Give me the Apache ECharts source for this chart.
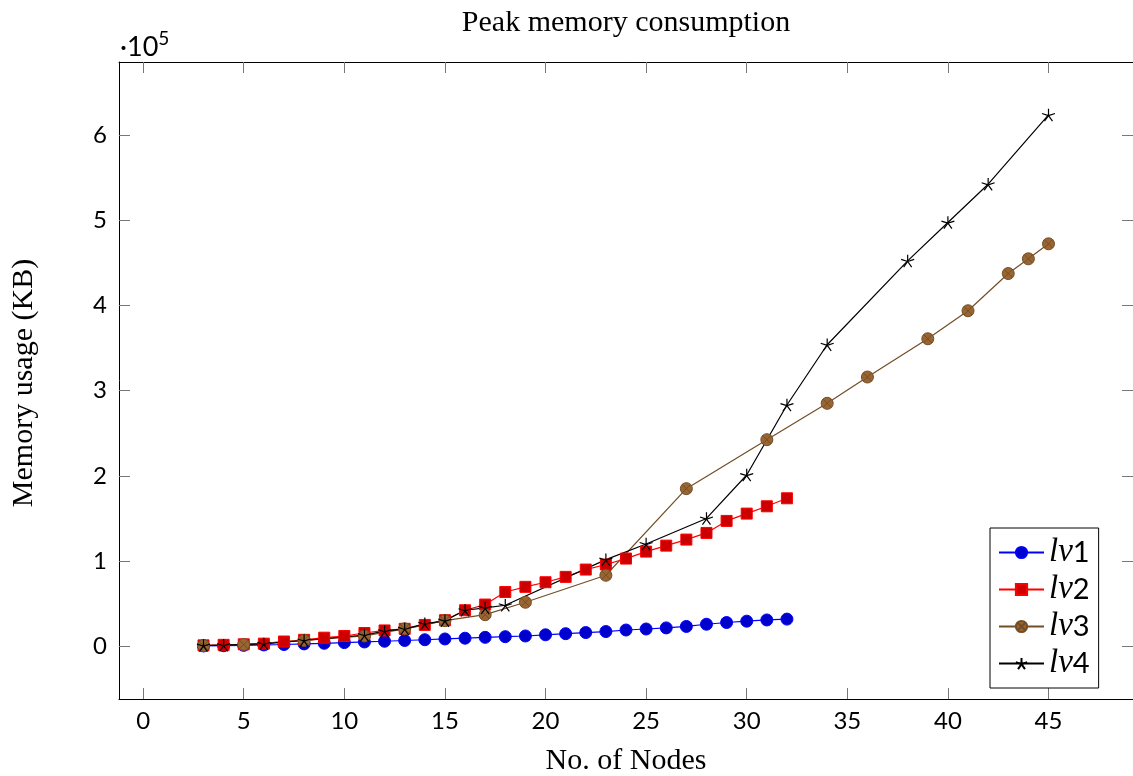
<!DOCTYPE html>
<html>
<head>
<meta charset="utf-8">
<script src="https://cdn.jsdelivr.net/npm/echarts@6/dist/echarts.min.js"></script>
<style>
  html, body { margin: 0; padding: 0; background: #fff; }
  #main { width: 1133px; height: 776px; }
</style>
</head>
<body>
<div id="main"></div>
<script>
// x = number of nodes, y = peak memory (KB)
const lv1X = [3, 4, 5, 6, 7, 8, 9, 10, 11, 12, 13, 14, 15, 16, 17, 18, 19, 20, 21, 22, 23, 24, 25, 26, 27, 28, 29, 30, 31, 32]
const lv1Y = [300, 600, 1000, 1500, 2000, 2700, 3400, 4200, 5000, 5800, 6700, 7600, 8500, 9400, 10400, 11200, 12000, 13400, 14700, 16000, 17200, 19000, 20200, 21500, 23200, 25800, 27800, 29400, 30800, 31800]

const lv2X = [3, 4, 5, 6, 7, 8, 9, 10, 11, 12, 13, 14, 15, 16, 17, 18, 19, 20, 21, 22, 23, 24, 25, 26, 27, 28, 29, 30, 31, 32]
const lv2Y = [1000, 1600, 2200, 3000, 5500, 7500, 10000, 12000, 15500, 18500, 20400, 25000, 30500, 42200, 48900, 63600, 69700, 75100, 81400, 90000, 95900, 102900, 111100, 118100, 125200, 133000, 147100, 155700, 164300, 173700]

const lv3X = [3, 5, 8, 11, 13, 15, 17, 19, 23, 27, 31, 34, 36, 39, 41, 43, 44, 45]
const lv3Y = [800, 2000, 6800, 12000, 20400, 30000, 37000, 51600, 83300, 185000, 242500, 285200, 316100, 361000, 393900, 437600, 454900, 472500]

const lv4X = [3, 4, 6, 8, 11, 12, 13, 14, 15, 16, 17, 18, 23, 25, 28, 30, 32, 34, 38, 40, 42, 45]
const lv4Y = [800, 1200, 2800, 6700, 13000, 17600, 20400, 26300, 30000, 42200, 45000, 48100, 101700, 120000, 150000, 201000, 283200, 354000, 452500, 497500, 542500, 623800]

const xTicks = [0, 5, 10, 15, 20, 25, 30, 35, 40, 45]
const yTicks = [0, 100000, 200000, 300000, 400000, 500000, 600000]

const pair = (xs, ys) => xs.map((x, i) => [x, ys[i]])

const starPath = 'path://M0,0L0,-1M0,0L0.951,-0.309M0,0L0.588,0.809M0,0L-0.588,0.809M0,0L-0.951,-0.309'
const otimesPath = 'path://M1,0A1,1 0 1,1 -1,0A1,1 0 1,1 1,0ZM-0.707,-0.707L0.707,0.707M0.707,-0.707L-0.707,0.707'

const tickFont = { fontFamily: 'Lato', fontSize: 24, color: '#000' }
const serifFont = '30px "Liberation Serif"'

const frameAxis = {
  axisLine: { onZero: false, lineStyle: { color: '#000', width: 1 } },
  axisTick: { inside: true, length: 11, lineStyle: { color: '#777', width: 1 } },
  splitLine: { show: false }
}

const chart = echarts.init(document.getElementById('main'))

const option = {
  animation: false,
  backgroundColor: '#fff',
  grid: { left: 119, top: 62, right: -1, bottom: 77 },
  xAxis: [
    {
      type: 'value', position: 'bottom', min: -1.2, max: 49.2,
      ...frameAxis,
      axisTick: { ...frameAxis.axisTick, customValues: xTicks },
      axisLabel: { ...tickFont, margin: 10, customValues: xTicks }
    },
    {
      type: 'value', position: 'top', min: -1.2, max: 49.2,
      ...frameAxis,
      axisTick: { ...frameAxis.axisTick, customValues: xTicks },
      axisLabel: { show: false }
    }
  ],
  yAxis: [
    {
      type: 'value', position: 'left', min: -62000, max: 686000,
      ...frameAxis,
      axisTick: { ...frameAxis.axisTick, customValues: yTicks },
      axisLabel: { ...tickFont, margin: 12, customValues: yTicks, formatter: v => String(Math.round(v / 100000)) }
    },
    {
      type: 'value', position: 'right', min: -62000, max: 686000,
      ...frameAxis,
      axisTick: { ...frameAxis.axisTick, customValues: yTicks },
      axisLabel: { show: false }
    }
  ],
  legend: {
    left: 990, top: 528,
    orient: 'vertical',
    backgroundColor: '#fff',
    borderColor: '#000',
    borderWidth: 1,
    borderRadius: 0,
    padding: [8, 9, 8, 8],
    itemGap: 4,
    itemWidth: 45,
    itemHeight: 14,
    data: ['lv1', 'lv2', 'lv3', 'lv4'],
    formatter: name => '{i|lv}{n|' + name.slice(2) + '}',
    textStyle: {
      lineHeight: 30,
      rich: {
        i: { fontFamily: 'Liberation Serif', fontStyle: 'italic', fontSize: 33, color: '#000' },
        n: { fontFamily: 'Lato', fontSize: 29, color: '#000' }
      }
    }
  },
  series: [
    {
      name: 'lv1', type: 'line', data: pair(lv1X, lv1Y),
      symbol: 'circle', symbolSize: 12,
      lineStyle: { color: '#0000ff', width: 1.2 },
      itemStyle: { color: '#0000cc', borderColor: '#0000ff', borderWidth: 1 }
    },
    {
      name: 'lv2', type: 'line', data: pair(lv2X, lv2Y),
      symbol: 'rect', symbolSize: 11,
      lineStyle: { color: '#ff0000', width: 1.2 },
      itemStyle: { color: '#cc0000', borderColor: '#ff0000', borderWidth: 1 }
    },
    {
      name: 'lv3', type: 'line', data: pair(lv3X, lv3Y),
      symbol: otimesPath, symbolSize: 12, symbolKeepAspect: true,
      lineStyle: { color: '#734d26', width: 1.2 },
      itemStyle: { color: '#996633', borderColor: '#734d26', borderWidth: 1 }
    },
    {
      name: 'lv4', type: 'line', data: pair(lv4X, lv4Y),
      symbol: starPath, symbolSize: 13, symbolKeepAspect: true,
      lineStyle: { color: '#000', width: 1.2 },
      itemStyle: { color: '#000', borderColor: '#000', borderWidth: 1.2 }
    }
  ],
  graphic: [
    {
      type: 'text', x: 626, y: 23,
      style: { text: 'Peak memory consumption', font: serifFont, fill: '#000', textAlign: 'center', textVerticalAlign: 'middle' }
    },
    {
      type: 'text', x: 626, y: 761,
      style: { text: 'No. of Nodes', font: serifFont, fill: '#000', textAlign: 'center', textVerticalAlign: 'middle' }
    },
    {
      type: 'text', x: 24, y: 383, rotation: Math.PI / 2,
      style: { text: 'Memory usage (KB)', font: serifFont, fill: '#000', textAlign: 'center', textVerticalAlign: 'middle' }
    },
    {
      type: 'text', x: 120, y: 26,
      style: {
        text: '{d|·10}{s|5}',
        rich: {
          d: { fontFamily: 'Lato', fontSize: 27, color: '#000', padding: [8, 0, 0, 0] },
          s: { fontFamily: 'Lato', fontSize: 19, color: '#000', padding: [0, 0, 10, 0] }
        }
      }
    }
  ]
}

chart.setOption(option)
</script>
</body>
</html>
